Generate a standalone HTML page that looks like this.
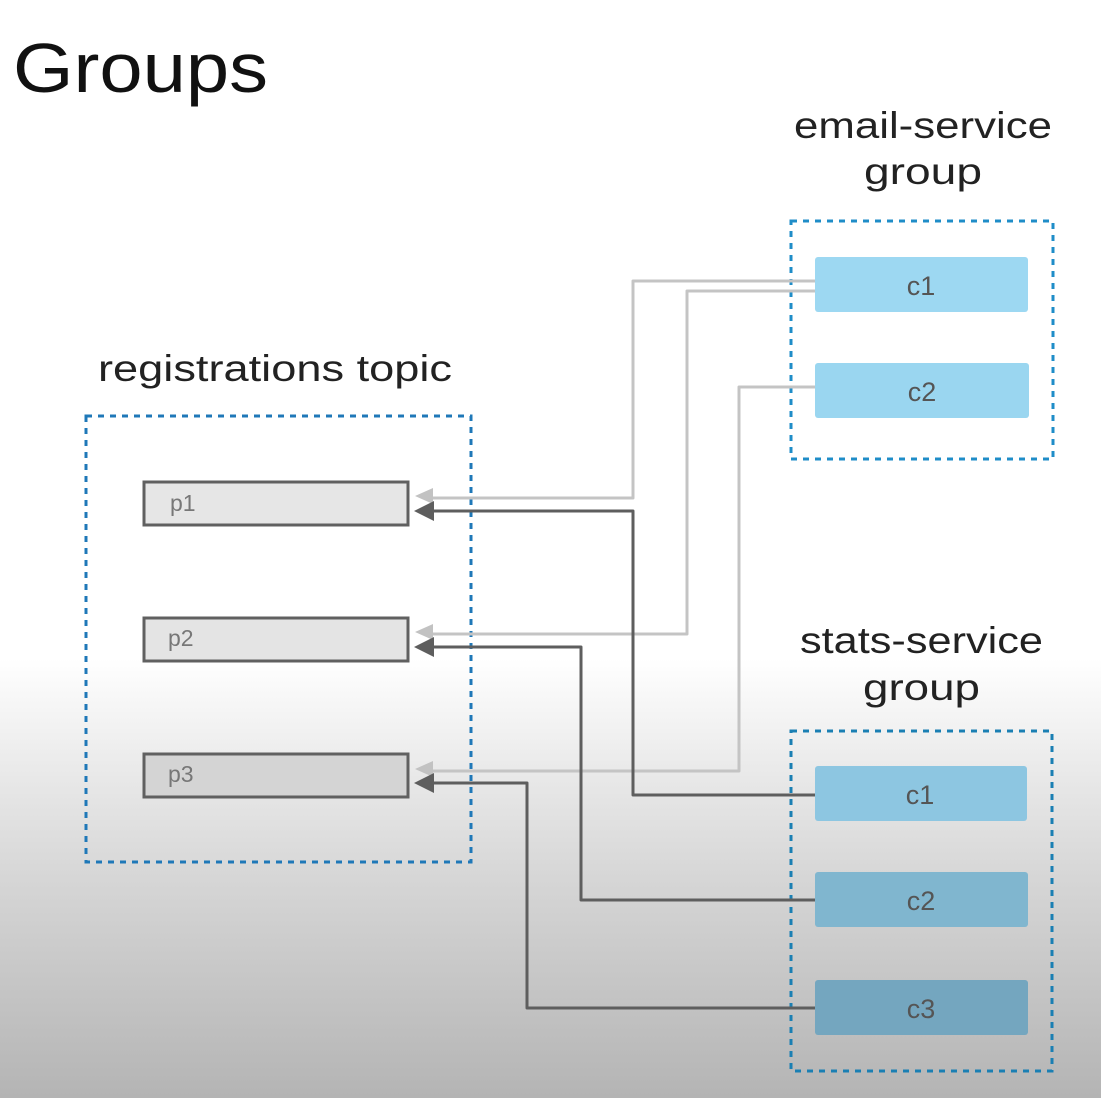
<!DOCTYPE html>
<html><head><meta charset="utf-8"><style>
html,body{margin:0;padding:0;width:1101px;height:1098px;overflow:hidden}
svg{display:block}
text{font-family:"Liberation Sans",sans-serif}
</style></head><body>
<svg width="1101" height="1098" viewBox="0 0 1101 1098">
<defs>
<linearGradient id="bg" x1="0" y1="0" x2="0" y2="1098" gradientUnits="userSpaceOnUse">
<stop offset="0" stop-color="#ffffff"/>
<stop offset="0.6" stop-color="#ffffff"/>
<stop offset="0.68" stop-color="#eeeeee"/>
<stop offset="0.8" stop-color="#d6d6d6"/>
<stop offset="1" stop-color="#b4b4b4"/>
</linearGradient>
</defs>
<rect width="1101" height="1098" fill="url(#bg)"/>

<text x="13" y="92" font-size="70" fill="#111" textLength="255" lengthAdjust="spacingAndGlyphs">Groups</text>
<text x="98" y="381" font-size="37" fill="#222" textLength="354" lengthAdjust="spacingAndGlyphs">registrations topic</text>
<text x="794" y="138" font-size="37" fill="#222" textLength="258" lengthAdjust="spacingAndGlyphs">email-service</text>
<text x="864" y="184" font-size="37" fill="#222" textLength="118" lengthAdjust="spacingAndGlyphs">group</text>
<text x="800" y="653" font-size="37" fill="#222" textLength="243" lengthAdjust="spacingAndGlyphs">stats-service</text>
<text x="863" y="700" font-size="37" fill="#222" textLength="117" lengthAdjust="spacingAndGlyphs">group</text>

<!-- dashed containers -->
<rect x="86" y="416" width="385" height="446" fill="none" stroke="#1f78b8" stroke-width="3" stroke-dasharray="6,6"/>
<rect x="791" y="221" width="262" height="238" fill="none" stroke="#1f8dc8" stroke-width="3" stroke-dasharray="6,6"/>
<rect x="791" y="731" width="261" height="340" fill="none" stroke="#1a7fb3" stroke-width="3" stroke-dasharray="6,6"/>

<!-- partitions -->
<rect x="144" y="482" width="264" height="43" fill="#e6e6e6" stroke="#606060" stroke-width="3"/>
<rect x="144" y="618" width="264" height="43" fill="#e4e4e4" stroke="#606060" stroke-width="3"/>
<rect x="144" y="754" width="264" height="43" fill="#d4d4d4" stroke="#606060" stroke-width="3"/>
<text x="170" y="511" font-size="23" fill="#777">p1</text>
<text x="168" y="646" font-size="23" fill="#777">p2</text>
<text x="168" y="782" font-size="23" fill="#777">p3</text>

<!-- light connectors -->
<g fill="none" stroke="#c4c4c4" stroke-width="3" stroke-linejoin="round">
<path d="M815 281 H633 V498 H430"/>
<path d="M815 291 H687 V634 H430"/>
<path d="M815 387 H739 V771 H430"/>
</g>
<g fill="#c2c2c2">
<polygon points="415,496 433,488 433,504"/>
<polygon points="415,632 433,624 433,640"/>
<polygon points="415,769 433,761 433,777"/>
</g>
<!-- dark connectors -->
<g fill="none" stroke="#5e5e5e" stroke-width="3" stroke-linejoin="round">
<path d="M815 795 H633 V511 H430"/>
<path d="M815 900 H581 V647 H430"/>
<path d="M815 1008 H527 V783 H430"/>
</g>
<g fill="#5e5e5e">
<polygon points="414,511 434,501 434,521"/>
<polygon points="414,647 434,637 434,657"/>
<polygon points="414,783 434,773 434,793"/>
</g>

<!-- consumers -->
<rect x="815" y="257" width="213" height="55" rx="3" fill="#9dd8f2"/>
<rect x="815" y="363" width="214" height="55" rx="3" fill="#9ad6f0"/>
<rect x="815" y="766" width="212" height="55" rx="3" fill="#8dc6e1"/>
<rect x="815" y="872" width="213" height="55" rx="3" fill="#80b6cf"/>
<rect x="815" y="980" width="213" height="55" rx="3" fill="#74a6bf"/>
<g font-size="27" fill="#555" text-anchor="middle">
<text x="921" y="295">c1</text>
<text x="922" y="401">c2</text>
<text x="920" y="804">c1</text>
<text x="921" y="910">c2</text>
<text x="921" y="1018">c3</text>
</g>
</svg>
</body></html>
